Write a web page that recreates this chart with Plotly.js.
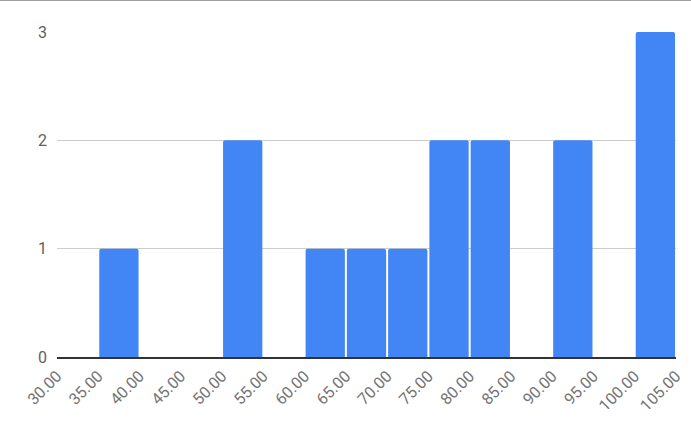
<!DOCTYPE html>
<html>
<head>
<meta charset="utf-8">
<script src="https://cdn.plot.ly/plotly-3.0.1.min.js"></script>
<style>
  html, body { margin: 0; padding: 0; background: #fff; }
  body { border-top: 1px solid #9e9e9e; }
  #chart { width: 691px; height: 429px; }
</style>
</head>
<body>
<div id="chart"></div>
<script>
// histogram bins, 5 wide
var binStarts = [30, 35, 40, 45, 50, 55, 60, 65, 70, 75, 80, 85, 90, 95, 100];
var counts    = [0, 1, 0, 0, 2, 0, 1, 1, 1, 2, 2, 0, 2, 0, 3];
var binSize = 5;

var tickVals = [30, 35, 40, 45, 50, 55, 60, 65, 70, 75, 80, 85, 90, 95, 100, 105];
var tickText = tickVals.map(function (v) { return v.toFixed(2); });

var centers = binStarts.map(function (b) { return b + binSize / 2; });

var trace = {
  x: centers,
  y: counts,
  type: 'bar',
  width: binSize * 0.952,
  marker: { color: '#4285f4' },
  hoverinfo: 'x+y'
};

var layout = {
  width: 691,
  height: 429,
  margin: { l: 57, r: 15, t: 31, b: 73 },
  paper_bgcolor: '#fff',
  plot_bgcolor: '#fff',
  showlegend: false,
  barcornerradius: 2,
  font: { family: 'Roboto, Arial, sans-serif', size: 16, color: '#666' },
  xaxis: {
    range: [30, 105],
    tickmode: 'array',
    tickvals: tickVals,
    ticktext: tickText,
    tickangle: -45,
    tickfont: { size: 16, color: '#757575' },
    ticklabelstandoff: 2,
    showgrid: false,
    zeroline: false,
    showline: true,
    linecolor: '#333',
    linewidth: 1.5,
    fixedrange: true
  },
  yaxis: {
    range: [0, 3],
    tickvals: [0, 1, 2, 3],
    tickfont: { size: 16, color: '#5f5f5f' },
    showgrid: true,
    gridcolor: '#cccccc',
    gridwidth: 1,
    zeroline: false,
    ticklabelstandoff: 9,
    fixedrange: true
  }
};

Plotly.newPlot(document.getElementById('chart'), [trace], layout, { displayModeBar: false, staticPlot: true });
</script>
</body>
</html>
